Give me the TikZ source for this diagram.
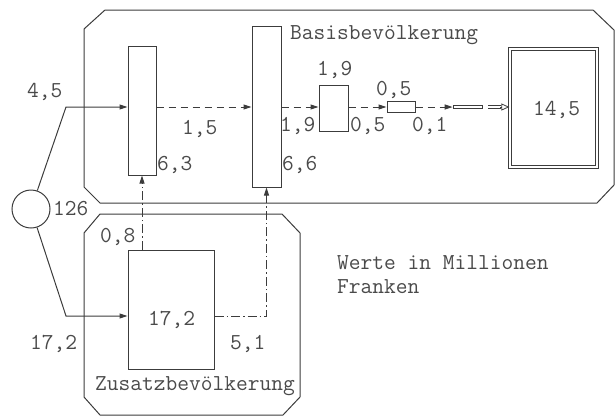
\documentclass[tikz,border=0pt]{standalone}
\usepackage{fontspec}
\usetikzlibrary{arrows.meta,calc}
\definecolor{ink}{HTML}{3C3C3C}
\definecolor{txt}{HTML}{4A4A4A}
\begin{document}
\begin{tikzpicture}[x=1pt,y=-1pt,
  every node/.style={font=\ttfamily\fontsize{22.8}{26}\selectfont, text=txt},
  lbl/.style={anchor=base west, inner sep=0pt},
  box/.style={draw=ink, line width=1pt, inner sep=0pt, fill=white},
  frame/.style={draw=ink, line width=1pt},
  conn/.style={draw=ink, line width=1pt, -{Triangle[length=8pt,width=5pt]}},
  dsh/.style={conn, dash pattern=on 7pt off 5pt},
  ddot/.style={conn, dash pattern=on 9pt off 3pt on 1.5pt off 3pt}]
\useasboundingbox (0,0) rectangle (615,416);
% containers
\draw[frame] (105,10) -- (593,10) -- (614,30) -- (614,185) -- (597,203) -- (100,203) -- (84,187) -- (84,29) -- cycle;
\draw[frame] (100,214) -- (282,214) -- (300,233) -- (300,397) -- (283,415) -- (100,415) -- (84,397) -- (84,233) -- cycle;
% coordinates
\coordinate (fl) at (0,107);
\coordinate (k1) at (66,107);
\coordinate (k2) at (66,316);
% nodes
\node[draw=ink, line width=1pt, circle, minimum size=38pt, inner sep=0pt] (O) at (31,209) {};
\node[box, minimum width=28pt, minimum height=129pt] (A) at (142,110.5) {};
\node[box, minimum width=29pt, minimum height=161pt] (B) at (266.5,106.5) {};
\node[box, minimum width=29pt, minimum height=46pt] (C) at (333.5,108) {};
\node[box, minimum width=28pt, minimum height=11pt] (D) at (401,107) {};
\node[box, line width=0.8pt, minimum width=29pt, minimum height=3.5pt] (E) at (467.5,107) {};
\node[draw=ink, line width=0.8pt, double, double distance=2pt, inner sep=0pt,
      minimum width=87.5pt, minimum height=118.5pt] (F) at (553.5,108) {};
\node[box, minimum width=86pt, minimum height=119pt] (G) at (171,309.5) {};
% connectors
\draw[conn] (O) -- (k1) -- (A.west |- fl);
\draw[conn] (O) -- (k2) -- (G.west |- k2);
\draw[dsh] (A.east |- fl) -- (B.west |- fl);
\draw[dsh] (B.east |- fl) -- (C.west |- fl);
\draw[dsh] (C.east |- fl) -- (D.west |- fl);
\draw[dsh] (D.east |- fl) -- (E.west |- fl);
\draw[ddot] (G.east |- k2) -| (B.south);
\draw[ddot] (G.north -| A.south) -- (A.south);
\draw[draw=ink, line width=0.8pt, double, double distance=2pt, shorten <=6pt, shorten >=8pt] (E.east |- fl) -- (F.west |- fl);
\draw[draw=ink, line width=0.8pt, -{Triangle[open,length=8pt,width=7pt]}] ($(F.west |- fl)+(-9,0)$) -- (F.west |- fl);
% labels
\node[lbl] at (27,97) {4,5};
\node[lbl] at (182,134) {1,5};
\node[lbl] at (157,170) {6,3};
\node[lbl] at (282,170) {6,6};
\node[lbl] at (280,131) {1,9};
\node[lbl] at (317,75) {1,9};
\node[lbl] at (350,131) {0,5};
\node[lbl] at (376,95) {0,5};
\node[lbl] at (412,131) {0,1};
\node[lbl] at (533,115) {14,5};
\node[lbl] at (290,39) {Basisbevölkerung};
\node[lbl] at (53,215) {126};
\node[lbl] at (100,242) {0,8};
\node[lbl] at (148,325) {17,2};
\node[lbl] at (30,349) {17,2};
\node[lbl] at (230,349) {5,1};
\node[lbl] at (95,390) {Zusatzbevölkerung};
\node[lbl] at (337,269) {Werte in Millionen};
\node[lbl] at (337,293) {Franken};
\end{tikzpicture}
\end{document}
